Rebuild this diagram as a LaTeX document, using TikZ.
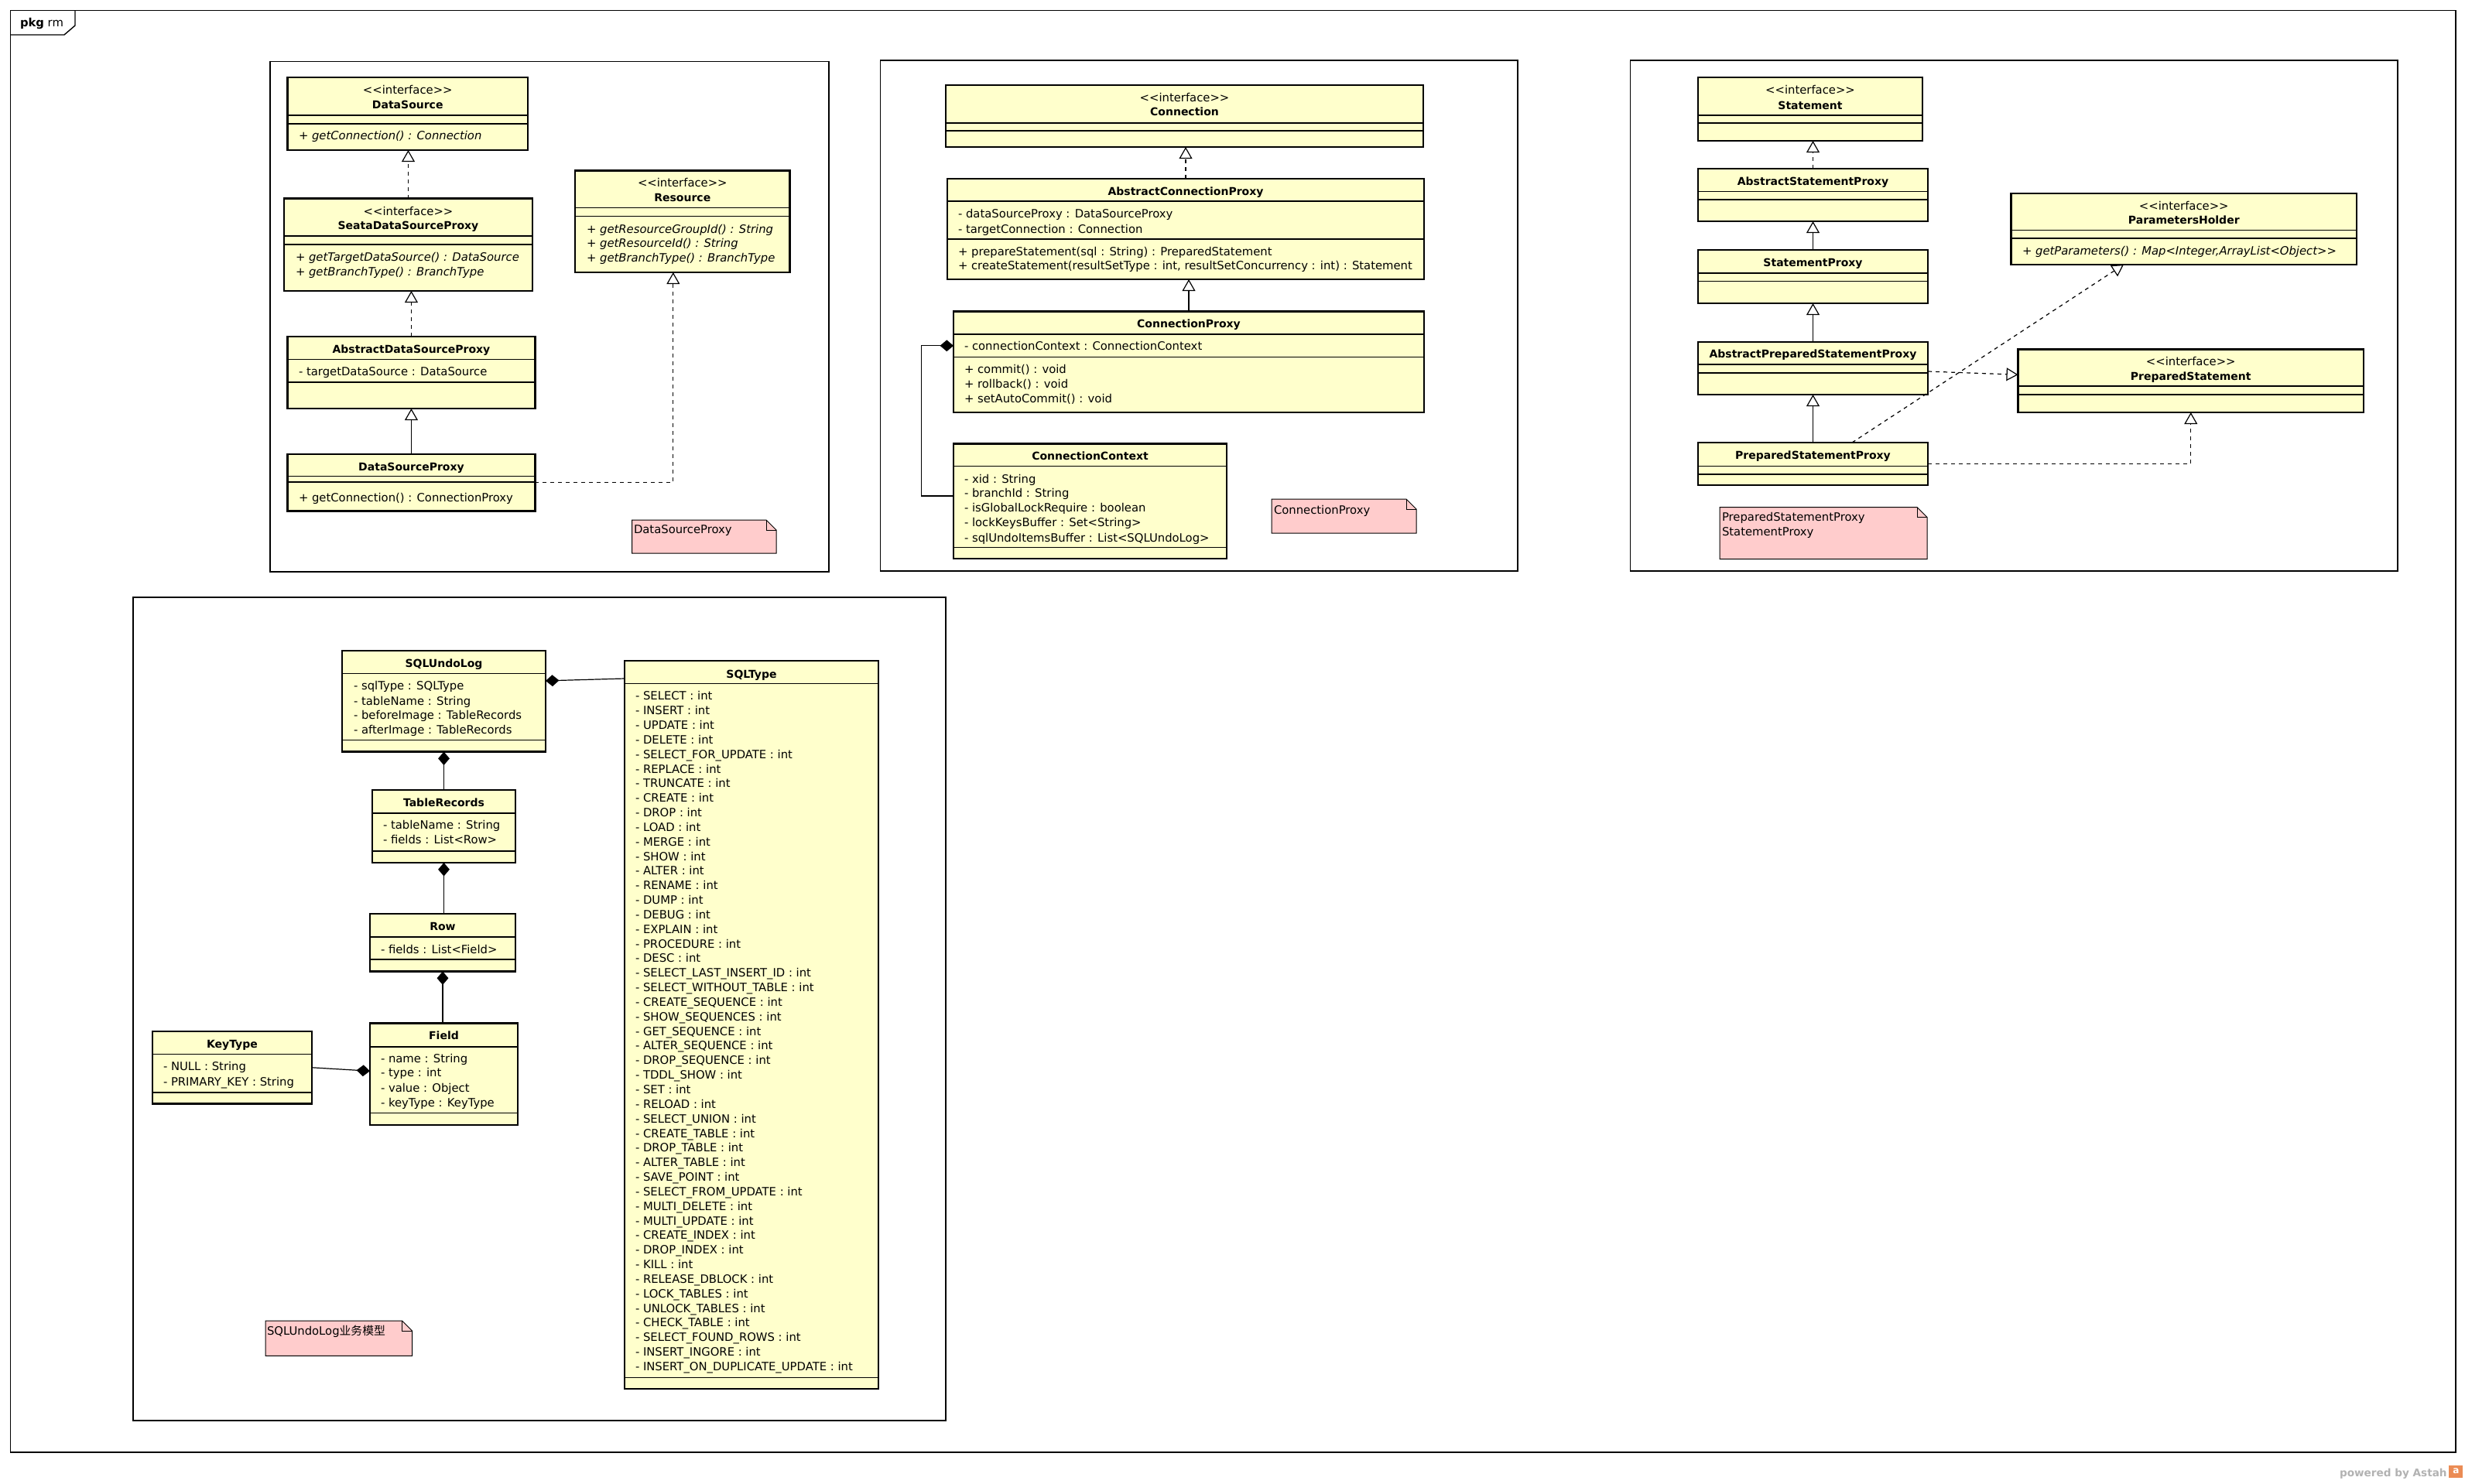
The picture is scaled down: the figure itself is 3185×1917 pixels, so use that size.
\documentclass[tikz,border=0pt]{standalone}
\usepackage{fontspec}
\setmainfont{DejaVu Sans}
\newfontfamily\cjk{Noto Sans CJK SC}
\usetikzlibrary{arrows.meta,fit}
\definecolor{clsfill}{RGB}{255,255,204}
\definecolor{notefill}{RGB}{255,204,204}
\definecolor{astahgray}{RGB}{178,178,178}
\definecolor{astahorange}{RGB}{235,140,85}
\newcounter{tc}
\newcommand\stereo{<{}<interface>{}>}
\tikzset{
  cls/.style={draw, line width=1.4pt, fill=clsfill, inner sep=0pt, outer sep=0pt, rectangle},
  pkgbox/.style={draw, line width=0.7pt, inner sep=0pt, outer sep=0pt, rectangle},
  sepline/.style={line width=0.6pt},
  txt/.style={inner sep=0pt, outer sep=0pt, font=\fontsize{7.4pt}{9pt}\selectfont, yshift=-2.75pt},
  tl/.style={txt, anchor=base west},
  tcn/.style={txt, anchor=base},
  nm/.style={tcn, font=\fontsize{7pt}{9pt}\selectfont\bfseries},
  conn/.style={line width=0.6pt},
  gen/.style={conn, -{Triangle[open, fill=white, length=7.5pt, width=8.4pt]}},
  real/.style={gen, dash pattern=on 2.5pt off 2.5pt},
  comp/.style={conn, {Diamond[length=8.7pt, width=7.4pt]}-},
  notebox/.style={draw, line width=0.5pt, fill=notefill}
}
\newcommand\CLS[6]{%
  \node[cls, fit={(#2,#3) (#4,#5)}] (#1) {};
  \foreach \s in {#6} {\draw[sepline] (#2,\s) -- (#4,\s);}
}
\newcommand\TL[3]{\stepcounter{tc}\node[tl] (t\arabic{tc}) at (#1,#2) {#3};}
\newcommand\TC[3]{\stepcounter{tc}\node[tcn] (t\arabic{tc}) at (#1,#2) {#3};}
\newcommand\NM[3]{\stepcounter{tc}\node[nm] (t\arabic{tc}) at (#1,#2) {#3};}
\newcommand\NOTE[5]{%
  \node[inner sep=0pt, outer sep=0pt, fit={(#2,#3) (#4,#5)}] (#1) {};
  \draw[notebox] (#2,#3) -- (#4-13,#3) -- (#4,#3+13) -- (#4,#5) -- (#2,#5) -- cycle;
  \draw[line width=0.5pt] (#4-13,#3) -- (#4-13,#3+13) -- (#4,#3+13);
}
\begin{document}
\begin{tikzpicture}[x=0.5pt,y=-0.5pt]
\fill[white] (0,0) rectangle (3185,1917);
\useasboundingbox (0,0) rectangle (3185,1917);

% outer frame
\node[pkgbox, fit={(13.5,13.5) (3173,1877)}] (frame) {};
\draw[line width=0.7pt] (13.5,45) -- (83,45) -- (97,33) -- (97,13.5);
\node[tl] (pkgname) at (26,29) {\textbf{pkg} rm};

% ---------------- Package A ----------------
\node[pkgbox, fit={(349,79.5) (1071,739)}] (pkgA) {};
\CLS{ds}{371.5}{100}{682}{194}{149,160}
\TC{526.75}{116}{\stereo}
\NM{526.75}{135}{DataSource}
\TL{386}{175}{\itshape + getConnection() : Connection}

\CLS{seata}{367}{256.5}{688}{376}{305,316}
\TC{527.5}{272.5}{\stereo}
\NM{527.5}{291}{SeataDataSourceProxy}
\TL{382}{331.5}{\itshape + getTargetDataSource() : DataSource}
\TL{382}{350.6}{\itshape + getBranchType() : BranchType}

\CLS{res}{743}{220.5}{1020.6}{352}{268.6,279.5}
\TC{881.8}{236}{\stereo}
\NM{881.8}{255}{Resource}
\TL{758}{295.5}{\itshape + getResourceGroupId() : String}
\TL{758}{314}{\itshape + getResourceId() : String}
\TL{758}{333}{\itshape + getBranchType() : BranchType}

\CLS{adsp}{371.5}{435}{691.4}{528}{464.7,494}
\NM{531.5}{451}{AbstractDataSourceProxy}
\TL{386}{480}{- targetDataSource : DataSource}

\CLS{dsp}{371.5}{587}{691.4}{660.7}{615.6,623}
\NM{531.5}{602.6}{DataSourceProxy}
\TL{386}{643}{+ getConnection() : ConnectionProxy}

\NOTE{noteA}{816.6}{672}{1003}{715}
\TL{819}{683.7}{DataSourceProxy}

% ---------------- Package B ----------------
\node[pkgbox, fit={(1137.5,78) (1961,738)}] (pkgB) {};
\CLS{con}{1222}{110}{1839}{190}{159,169}
\TC{1530.5}{125.5}{\stereo}
\NM{1530.5}{144}{Connection}

\CLS{acp}{1224}{231}{1840}{361}{260,309}
\NM{1532}{247}{AbstractConnectionProxy}
\TL{1238}{276.4}{- dataSourceProxy : DataSourceProxy}
\TL{1238}{295.5}{- targetConnection : Connection}
\TL{1238}{324.6}{+ prepareStatement(sql : String) : PreparedStatement}
\TL{1238}{343}{+ createStatement(resultSetType : int, resultSetConcurrency : int) : Statement}

\CLS{cp}{1232}{402.6}{1840}{533}{432,461.6}
\NM{1536}{418}{ConnectionProxy}
\TL{1246}{447}{- connectionContext : ConnectionContext}
\TL{1246}{477}{+ commit() : void}
\TL{1246}{496}{+ rollback() : void}
\TL{1246}{515}{+ setAutoCommit() : void}

\CLS{cc}{1232}{573.5}{1585}{722}{602.6,707.5}
\NM{1408.5}{589}{ConnectionContext}
\TL{1246}{618.6}{- xid : String}
\TL{1246}{637}{- branchId : String}
\TL{1246}{656}{- isGlobalLockRequire : boolean}
\TL{1246}{675}{- lockKeysBuffer : Set<String>}
\TL{1246}{694.5}{- sqlUndoItemsBuffer : List<SQLUndoLog>}

\NOTE{noteB}{1643}{645}{1830}{689}
\TL{1646}{659}{ConnectionProxy}

% ---------------- Package C ----------------
\node[pkgbox, fit={(2106.4,78) (3098,738)}] (pkgC) {};
\CLS{st}{2194}{100}{2484}{182}{149,159}
\TC{2339}{116.4}{\stereo}
\NM{2339}{135.5}{Statement}

\CLS{asp}{2194}{218}{2491}{286}{247.4,258}
\NM{2342.5}{233.5}{AbstractStatementProxy}

\CLS{sp}{2194}{323}{2491}{392}{353,363.6}
\NM{2342.5}{339}{StatementProxy}

\CLS{apsp}{2194}{442}{2491}{510}{471,482}
\NM{2342.5}{457}{AbstractPreparedStatementProxy}

\CLS{psp}{2194}{572}{2491}{627}{602.6,613}
\NM{2342.5}{588}{PreparedStatementProxy}

\CLS{ph}{2598.5}{250}{3045}{342}{297.7,308}
\TC{2821.75}{265.6}{\stereo}
\NM{2821.75}{284}{ParametersHolder}
\TL{2613}{324}{\itshape + getParameters() : Map<Integer,ArrayList<Object>{}>}

\CLS{ps}{2607.5}{451.6}{3054}{533}{499,510}
\TC{2830.75}{467}{\stereo}
\NM{2830.75}{485.5}{PreparedStatement}

\NOTE{noteC}{2222}{655.5}{2490}{722.7}
\TL{2225}{667.6}{PreparedStatementProxy}
\TL{2225}{686.7}{StatementProxy}

% ---------------- Package D ----------------
\node[pkgbox, fit={(172,772) (1222,1836)}] (pkgD) {};
\CLS{sul}{442}{841}{705}{971.6}{870.7,956.4}
\NM{573.5}{857}{SQLUndoLog}
\TL{457}{886}{- sqlType : SQLType}
\TL{457}{905.5}{- tableName : String}
\TL{457}{924}{- beforeImage : TableRecords}
\TL{457}{943}{- afterImage : TableRecords}

\CLS{tr}{481}{1021}{666}{1115}{1051,1100}
\NM{573.5}{1037}{TableRecords}
\TL{495}{1066}{- tableName : String}
\TL{495}{1085}{- fields : List<Row>}

\CLS{row}{478}{1181}{666}{1255.5}{1211,1240}
\NM{572}{1197}{Row}
\TL{492}{1226.5}{- fields : List<Field>}

\CLS{field}{478}{1322.5}{669}{1454}{1353,1438.6}
\NM{573.5}{1338}{Field}
\TL{492}{1367.6}{- name : String}
\TL{492}{1386}{- type : int}
\TL{492}{1405.5}{- value : Object}
\TL{492}{1424.7}{- keyType : KeyType}

\CLS{kt}{197}{1333}{403}{1426.5}{1362.7,1412}
\NM{300}{1349}{KeyType}
\TL{211}{1378}{- NULL : String}
\TL{211}{1397.5}{- PRIMARY\_KEY : String}

\CLS{sqlt}{807}{854}{1135}{1795}{883.7,1780.7}
\NM{971}{870.7}{SQLType}
\foreach \sqlname [count=\i from 0] in {SELECT, INSERT, UPDATE, DELETE, SELECT\_FOR\_UPDATE, REPLACE, TRUNCATE, CREATE, DROP, LOAD, MERGE, SHOW, ALTER, RENAME, DUMP, DEBUG, EXPLAIN, PROCEDURE, DESC, SELECT\_LAST\_INSERT\_ID, SELECT\_WITHOUT\_TABLE, CREATE\_SEQUENCE, SHOW\_SEQUENCES, GET\_SEQUENCE, ALTER\_SEQUENCE, DROP\_SEQUENCE, TDDL\_SHOW, SET, RELOAD, SELECT\_UNION, CREATE\_TABLE, DROP\_TABLE, ALTER\_TABLE, SAVE\_POINT, SELECT\_FROM\_UPDATE, MULTI\_DELETE, MULTI\_UPDATE, CREATE\_INDEX, DROP\_INDEX, KILL, RELEASE\_DBLOCK, LOCK\_TABLES, UNLOCK\_TABLES, CHECK\_TABLE, SELECT\_FOUND\_ROWS, INSERT\_INGORE, INSERT\_ON\_DUPLICATE\_UPDATE} {
  \pgfmathsetmacro\yy{899.3+18.84*\i}
  \TL{821}{\yy}{- \sqlname{} : int}
}

\NOTE{noteD}{343}{1707}{532.5}{1752.3}
\TL{345}{1720}{SQLUndoLog{\cjk 业务模型}}

% ---------------- connectors ----------------
\draw[real] (seata.north) -- (seata.north |- ds.south);
\draw[real] (adsp.north) -- (adsp.north |- seata.south);
\draw[gen] (dsp.north) -- (dsp.north |- adsp.south);
\draw[real] (dsp.east) -| ([xshift=-6pt]res.south);

\draw[real] (acp.north) -- (acp.north |- con.south);
\draw[gen] (cp.north) -- (cp.north |- acp.south);
\draw[comp] ([yshift=10.5pt]cp.west) -- ++(-41.5,0) |- ([yshift=3.4pt]cc.west);

\draw[real] (asp.north) -- (asp.north |- st.south);
\draw[gen] (sp.north) -- (sp.north |- asp.south);
\draw[gen] (apsp.north) -- (apsp.north |- sp.south);
\draw[gen] (psp.north) -- (psp.north |- apsp.south);
\draw[real] ([yshift=-2pt]apsp.east) -- ([yshift=4pt]ps.west);
\draw[real] (psp.east) -| (ps.south);
\draw[real] ([xshift=25.25pt]psp.north) -- ([xshift=-38.9pt]ph.south);

\draw[comp] (sul.south) -- (sul.south |- tr.north);
\draw[comp] (tr.south) -- (tr.south |- row.north);
\draw[comp] (row.south) -- (row.south |- field.north);
\draw[comp] ([yshift=2pt]field.west) -- (kt.east);
\draw[comp] ([yshift=13.2pt]sul.east) -- ([yshift=-11.5pt]sqlt.north west);

% powered by
\node[anchor=base east, inner sep=0pt, text=astahgray, font=\fontsize{6.8pt}{8pt}\selectfont\bfseries] (powered) at (3162,1908) {powered by Astah};
\node[anchor=south west, inner sep=0pt, fill=astahorange, minimum width=9pt, minimum height=8pt, text=white, font=\fontsize{6pt}{7pt}\selectfont\bfseries] (logo) at (3164,1910) {a};
\end{tikzpicture}
\end{document}
